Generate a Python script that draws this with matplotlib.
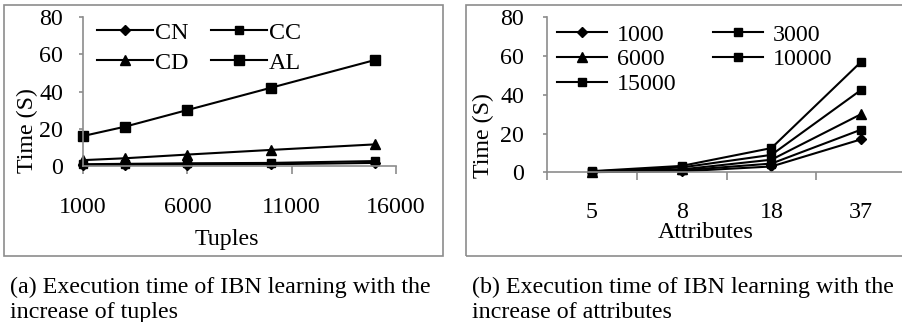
import matplotlib
matplotlib.use("Agg")
import matplotlib.pyplot as plt
from matplotlib.patches import Rectangle
import numpy as np

# ---- data ----
tuples = [1000, 3000, 6000, 10000, 15000]
cn = [0.3, 0.4, 0.6, 0.8, 1.5]
cc = [0.8, 1.0, 1.3, 1.5, 2.5]
cd = [3.0, 4.0, 6.0, 8.5, 11.5]
al = [16, 21, 30, 42, 57]

attributes = ["5", "8", "18", "37"]
t1000 = [0.1, 0.5, 3.0, 17]
t3000 = [0.2, 1.0, 4.5, 22]
t6000 = [0.3, 1.5, 6.5, 30]
t10000 = [0.4, 2.5, 9.0, 42.5]
t15000 = [0.6, 3.3, 12.5, 57]

left_xticks = [1000, 6000, 11000, 16000]
yticks = [0, 20, 40, 60, 80]

W, H = 903, 322
fig = plt.figure(figsize=(W / 100, H / 100), dpi=100)
plt.rcParams['font.family'] = ['Liberation Serif', 'DejaVu Serif']

GRAY = '#8c8c8c'
FS = 17.3

def px_axes(x0, x1, ytop, ybot):
    return fig.add_axes([x0 / W, 1 - ybot / H, (x1 - x0) / W, (ybot - ytop) / H])

def style(ax, xpad, ypad):
    for s in ['top', 'right']:
        ax.spines[s].set_visible(False)
    for s in ['left', 'bottom']:
        ax.spines[s].set_color(GRAY)
        ax.spines[s].set_linewidth(1.2)
    ax.tick_params(axis='x', which='both', direction='out', length=5.8, width=1.2,
                   color=GRAY, pad=xpad, labelsize=FS)
    ax.tick_params(axis='y', direction='out', length=3.2, width=1.2, color=GRAY,
                   pad=ypad, labelsize=FS)
    ax.set_ylim(0, 80)
    ax.set_yticks(yticks)

# figure boxes
fig.patches.append(Rectangle((4 / W, 1 - 256 / H), (443 - 4) / W, (256 - 5) / H,
                             transform=fig.transFigure, fill=False, ec=GRAY, lw=1.2))
fig.patches.append(Rectangle((466 / W, 1 - 256 / H), (920 - 466) / W, (256 - 5) / H,
                             transform=fig.transFigure, fill=False, ec=GRAY, lw=1.2,
                             clip_on=False))

lkw = dict(color='black', lw=1.5, clip_on=False)

# ---- left panel ----
ax1 = px_axes(83, 396, 17.3, 165.7)
style(ax1, 16.5, 11)
ax1.set_xlim(1000, 16000)
ax1.set_xticks(left_xticks)
h_cn, = ax1.plot(tuples, cn, marker='D', ms=5.5, label='CN', **lkw)
h_cc, = ax1.plot(tuples, cc, marker='s', ms=6, label='CC', **lkw)
h_cd, = ax1.plot(tuples, cd, marker='^', ms=7, label='CD', **lkw)
h_al, = ax1.plot(tuples, al, marker='s', ms=6.5, label='AL', **lkw)
ax1.legend(handles=[h_cn, h_cd, h_cc, h_al], ncol=2, loc='upper left',
           bbox_to_anchor=(0.045, 0.968), frameon=False, fontsize=FS,
           handlelength=2.33, handletextpad=0.1, columnspacing=0.9,
           labelspacing=0.33, borderpad=0, borderaxespad=0)
ax1.set_xlabel('Tuples', fontsize=FS)
ax1.xaxis.set_label_coords(0.46, -0.497)
ax1.xaxis.label.set_va('center')
ax1.set_ylabel('Time (S)', fontsize=FS, va='center')
ax1.yaxis.set_label_coords((27 - 83) / 313, 0.24)

# ---- right panel ----
xi = np.arange(len(attributes))
ax2 = px_axes(547.2, 905.9, 17.3, 172.3)
style(ax2, 15, 13.5)
ax2.set_xlim(-0.5, 3.5)
ax2.set_xticks(xi)
ax2.set_xticklabels(attributes)
ax2.set_xticks(np.arange(-0.5, 4.0, 1.0), minor=True)
ax2.tick_params(axis='x', which='major', length=0, pad=15.5 + 5.8)
ax2.spines['bottom'].set_clip_on(False)
h1, = ax2.plot(xi, t1000, marker='D', ms=5.5, label='1000', **lkw)
h2, = ax2.plot(xi, t3000, marker='s', ms=6, label='3000', **lkw)
h3, = ax2.plot(xi, t6000, marker='^', ms=7, label='6000', **lkw)
h4, = ax2.plot(xi, t10000, marker='s', ms=6, label='10000', **lkw)
h5, = ax2.plot(xi, t15000, marker='s', ms=6, label='15000', **lkw)
ax2.legend(handles=[h1, h3, h5, h2, h4], ncol=2, loc='upper left',
           bbox_to_anchor=(0.027, 0.957), frameon=False, fontsize=FS,
           handlelength=2.08, handletextpad=0.42, columnspacing=1.5,
           labelspacing=0.12, borderpad=0, borderaxespad=0)
ax2.set_xlabel('Attributes', fontsize=FS)
ax2.xaxis.set_label_coords(0.443, -0.39)
ax2.xaxis.label.set_va('center')
ax2.set_ylabel('Time (S)', fontsize=FS, va='center')
ax2.yaxis.set_label_coords((483 - 547.2) / 358.7, 0.24)

# ---- captions ----
CFS = 17.3
fig.text(10 / W, 1 - 293 / H, '(a) Execution time of IBN learning with the',
         fontsize=CFS, va='baseline', ha='left')
fig.text(10 / W, 1 - 318 / H, 'increase of tuples', fontsize=CFS, va='baseline', ha='left')
fig.text(472 / W, 1 - 293 / H, '(b) Execution time of IBN learning with the',
         fontsize=CFS, va='baseline', ha='left')
fig.text(472 / W, 1 - 318 / H, 'increase of attributes', fontsize=CFS, va='baseline', ha='left')

fig.savefig('out.png', dpi=100)
